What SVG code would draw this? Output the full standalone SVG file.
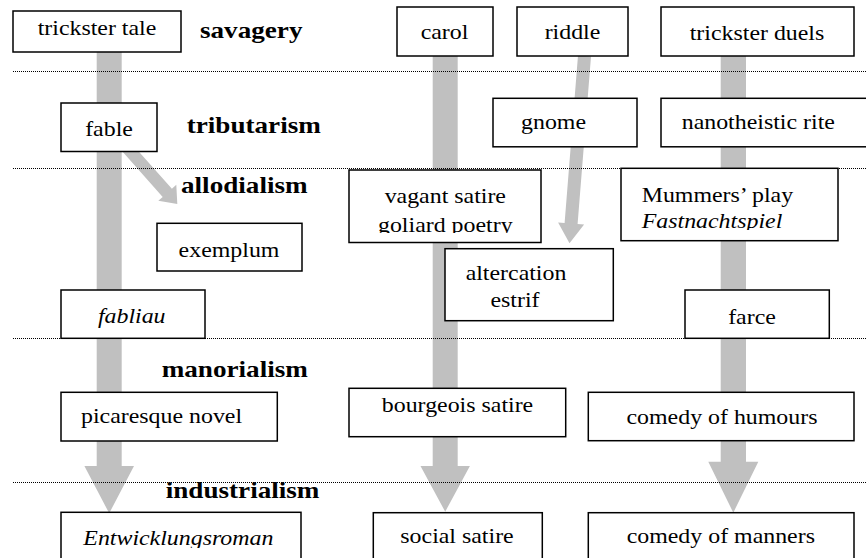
<svg xmlns="http://www.w3.org/2000/svg" width="866" height="558" viewBox="0 0 866 558">
<style>
.box{fill:#fff;stroke:#000;stroke-width:1.5}
.t{font-family:"Liberation Serif","Times New Roman",serif;font-size:20.5px;fill:#000}
.c{text-anchor:middle}
.i{font-style:italic}
.b{font-weight:bold;font-size:23.3px}
.sep{stroke:#000;stroke-width:1;stroke-dasharray:1 1;fill:none}
.arr{fill:#c0c0c0;stroke:none}
</style>
<defs>
<clipPath id="clipVag" clipPathUnits="userSpaceOnUse"><rect x="349" y="170" width="192" height="63"/></clipPath>
<clipPath id="clipMum" clipPathUnits="userSpaceOnUse"><rect x="621" y="168" width="217" height="62"/></clipPath>
<clipPath id="clipEnt" clipPathUnits="userSpaceOnUse"><rect x="61" y="512" width="240" height="36"/></clipPath>
</defs>
<rect x="0" y="0" width="866" height="558" fill="#fff"/>

<g id="connectors">
<polygon class="arr" points="96.7,52 121.7,52 121.7,466 134,466 109.2,513.3 84.4,466 96.7,466"/>
<polygon class="arr" points="122.4,151.6 131.6,143.4 171.9,188.7 176.3,184.8 177.3,204 158.3,200.8 162.7,196.9"/>
<polygon class="arr" points="432.7,56 457.7,56 457.7,466 469.9,466 445.2,511.7 420.5,466 432.7,466"/>
<polygon class="arr" points="578,55.5 591,56.5 577.6,223.9 584.1,224.4 569.5,243.3 558.1,222.4 564.6,222.9"/>
<polygon class="arr" points="720.7,56 746,56 746,461.7 758.3,461.7 733.3,512.7 708.3,461.7 720.7,461.7"/>
</g>

<g id="separators">
<line class="sep" x1="13" y1="71.5" x2="866" y2="71.5"/>
<line class="sep" x1="13" y1="168.5" x2="866" y2="168.5"/>
<line class="sep" x1="13" y1="338.5" x2="866" y2="338.5"/>
<line class="sep" x1="13" y1="482.5" x2="866" y2="482.5"/>
</g>

<g id="eras">
<text class="t b" transform="translate(200,38.3) scale(1.165,1)">savagery</text>
<text class="t b" transform="translate(186.7,132.7) scale(1.165,1)">tributarism</text>
<text class="t b" transform="translate(181,192.7) scale(1.165,1)">allodialism</text>
<text class="t b" transform="translate(161.7,377.3) scale(1.165,1)">manorialism</text>
<text class="t b" transform="translate(165.7,498.2) scale(1.165,1)">industrialism</text>
</g>

<g id="n-trickster-tale">
<rect class="box" x="13" y="11" width="168" height="41"/>
<text class="t c" transform="translate(97,34.5) scale(1.165,1)">trickster tale</text>
</g>
<g id="n-fable">
<rect class="box" x="61" y="103" width="96" height="48.5"/>
<text class="t c" transform="translate(109,136) scale(1.165,1)">fable</text>
</g>
<g id="n-carol">
<rect class="box" x="397" y="7" width="96" height="49"/>
<text class="t c" transform="translate(444.5,39.3) scale(1.165,1)">carol</text>
</g>
<g id="n-riddle">
<rect class="box" x="517" y="7" width="111" height="49"/>
<text class="t c" transform="translate(572.5,39.3) scale(1.165,1)">riddle</text>
</g>
<g id="n-trickster-duels">
<rect class="box" x="661" y="7" width="193" height="49"/>
<text class="t c" transform="translate(757,40) scale(1.165,1)">trickster duels</text>
</g>
<g id="n-gnome">
<rect class="box" x="493" y="98.3" width="144" height="48.5"/>
<text class="t" transform="translate(521,129.3) scale(1.165,1)">gnome</text>
</g>
<g id="n-nanotheistic-rite">
<rect class="box" x="661" y="98.3" width="210" height="48.5"/>
<text class="t" transform="translate(681.7,128.5) scale(1.165,1)">nanotheistic rite</text>
</g>
<g id="n-vagant-satire">
<rect class="box" x="349" y="170" width="192" height="72.5"/>
<g clip-path="url(#clipVag)">
<text class="t c" transform="translate(445.3,203) scale(1.165,1)">vagant satire</text>
<text class="t c" transform="translate(445.3,231.5) scale(1.165,1)">goliard poetry</text>
</g>
</g>
<g id="n-mummers-play">
<rect class="box" x="621" y="168.3" width="217" height="72.4"/>
<g clip-path="url(#clipMum)">
<text class="t" transform="translate(641.7,201.7) scale(1.165,1)">Mummers’ play</text>
<text class="t i" transform="translate(641.7,227.5) scale(1.165,1)">Fastnachtspiel</text>
</g>
</g>
<g id="n-exemplum">
<rect class="box" x="157" y="223.3" width="145" height="47.7"/>
<text class="t c" transform="translate(229,257.3) scale(1.165,1)">exemplum</text>
</g>
<g id="n-altercation">
<rect class="box" x="445" y="248.7" width="168.3" height="72"/>
<text class="t c" transform="translate(516,280) scale(1.165,1)">altercation</text>
<text class="t c" transform="translate(515,306.7) scale(1.165,1)">estrif</text>
</g>
<g id="n-fabliau">
<rect class="box" x="61" y="290" width="144" height="48.3"/>
<text class="t c i" transform="translate(131.7,323.3) scale(1.165,1)">fabliau</text>
</g>
<g id="n-farce">
<rect class="box" x="685" y="290" width="144.3" height="48.3"/>
<text class="t c" transform="translate(752,324) scale(1.165,1)">farce</text>
</g>
<g id="n-picaresque-novel">
<rect class="box" x="61" y="392.3" width="216.3" height="48.7"/>
<text class="t" transform="translate(81,423.3) scale(1.165,1)">picaresque novel</text>
</g>
<g id="n-bourgeois-satire">
<rect class="box" x="349" y="388.3" width="216.7" height="48.4"/>
<text class="t c" transform="translate(457.5,411.7) scale(1.165,1)">bourgeois satire</text>
</g>
<g id="n-comedy-of-humours">
<rect class="box" x="588.3" y="392.3" width="265.7" height="48.4"/>
<text class="t c" transform="translate(722,424) scale(1.165,1)">comedy of humours</text>
</g>
<g id="n-entwicklungsroman">
<rect class="box" x="61" y="512.3" width="240" height="60"/>
<g clip-path="url(#clipEnt)">
<text class="t i" transform="translate(83.3,545) scale(1.165,1)">Entwicklungsroman</text>
</g>
</g>
<g id="n-social-satire">
<rect class="box" x="373.3" y="512.7" width="169" height="60"/>
<text class="t c" transform="translate(457,543.3) scale(1.165,1)">social satire</text>
</g>
<g id="n-comedy-of-manners">
<rect class="box" x="588.3" y="512.7" width="265.7" height="60"/>
<text class="t c" transform="translate(720.8,543.3) scale(1.165,1)">comedy of manners</text>
</g>
</svg>
